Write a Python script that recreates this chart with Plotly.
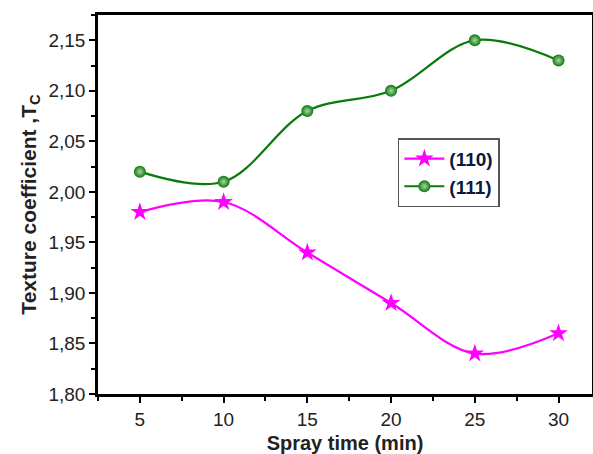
import plotly.graph_objects as go

spray_time = [5, 10, 15, 20, 25, 30]
tc_110 = [1.98, 1.99, 1.94, 1.89, 1.84, 1.86]
tc_111 = [2.02, 2.01, 2.08, 2.10, 2.15, 2.13]
y_ticks = [1.80, 1.85, 1.90, 1.95, 2.00, 2.05, 2.10, 2.15]

FONT = "Arial, Liberation Sans"

fig = go.Figure()
fig.add_trace(go.Scatter(
    x=spray_time, y=tc_110, name="<b>(110)</b>", mode="lines+markers",
    line=dict(color="#ff00ff", width=2.2, shape="spline", smoothing=1.0),
    marker=dict(symbol="star", size=14, color="#ff00ff"),
))
fig.add_trace(go.Scatter(
    x=spray_time, y=tc_111, name="<b>(111)</b>", mode="lines+markers",
    line=dict(color="#0a7a0a", width=2.2, shape="spline", smoothing=1.0),
    marker=dict(symbol="circle", size=12, color="#0a7a0a",
                gradient=dict(type="radial", color="#a8d8a8")),
))

axis_common = dict(
    showline=True, linecolor="black", linewidth=2.5, mirror=True,
    ticks="outside", tickcolor="black", tickwidth=2, ticklen=6,
    showgrid=False, zeroline=False, automargin=False,
    tickfont=dict(family=FONT, size=19, color="#222"),
)
fig.update_xaxes(
    range=[2.5, 32.0], tickvals=spray_time,
    minor=dict(ticks="outside", ticklen=4, tickwidth=2, tickcolor="black", dtick=2.5, tick0=2.5),
    title=dict(text="<b>Spray time (min)</b>", standoff=12,
               font=dict(family=FONT, size=20, color="#222")),
    **axis_common,
)
fig.update_yaxes(
    range=[1.80, 2.175], tickvals=y_ticks, tickformat=".2f",
    minor=dict(ticks="outside", ticklen=4, tickwidth=2, tickcolor="black", dtick=0.025, tick0=1.8),
    title=dict(text="<b>Texture coefficient ,T<sub>C</sub></b>", standoff=7,
               font=dict(family=FONT, size=21, color="#222")),
    **axis_common,
)
fig.update_layout(
    width=593, height=454, separators=", ",
    margin=dict(l=98, r=1, t=15, b=60),
    plot_bgcolor="white", paper_bgcolor="white",
    legend=dict(x=0.607, y=0.675, xanchor="left", yanchor="top",
                bgcolor="white", bordercolor="#555", borderwidth=1.5,
                font=dict(family=FONT, size=19, color="#0a1a3a"),
                tracegroupgap=0, itemwidth=40),
    showlegend=True,
)
fig.write_html("out.html")
